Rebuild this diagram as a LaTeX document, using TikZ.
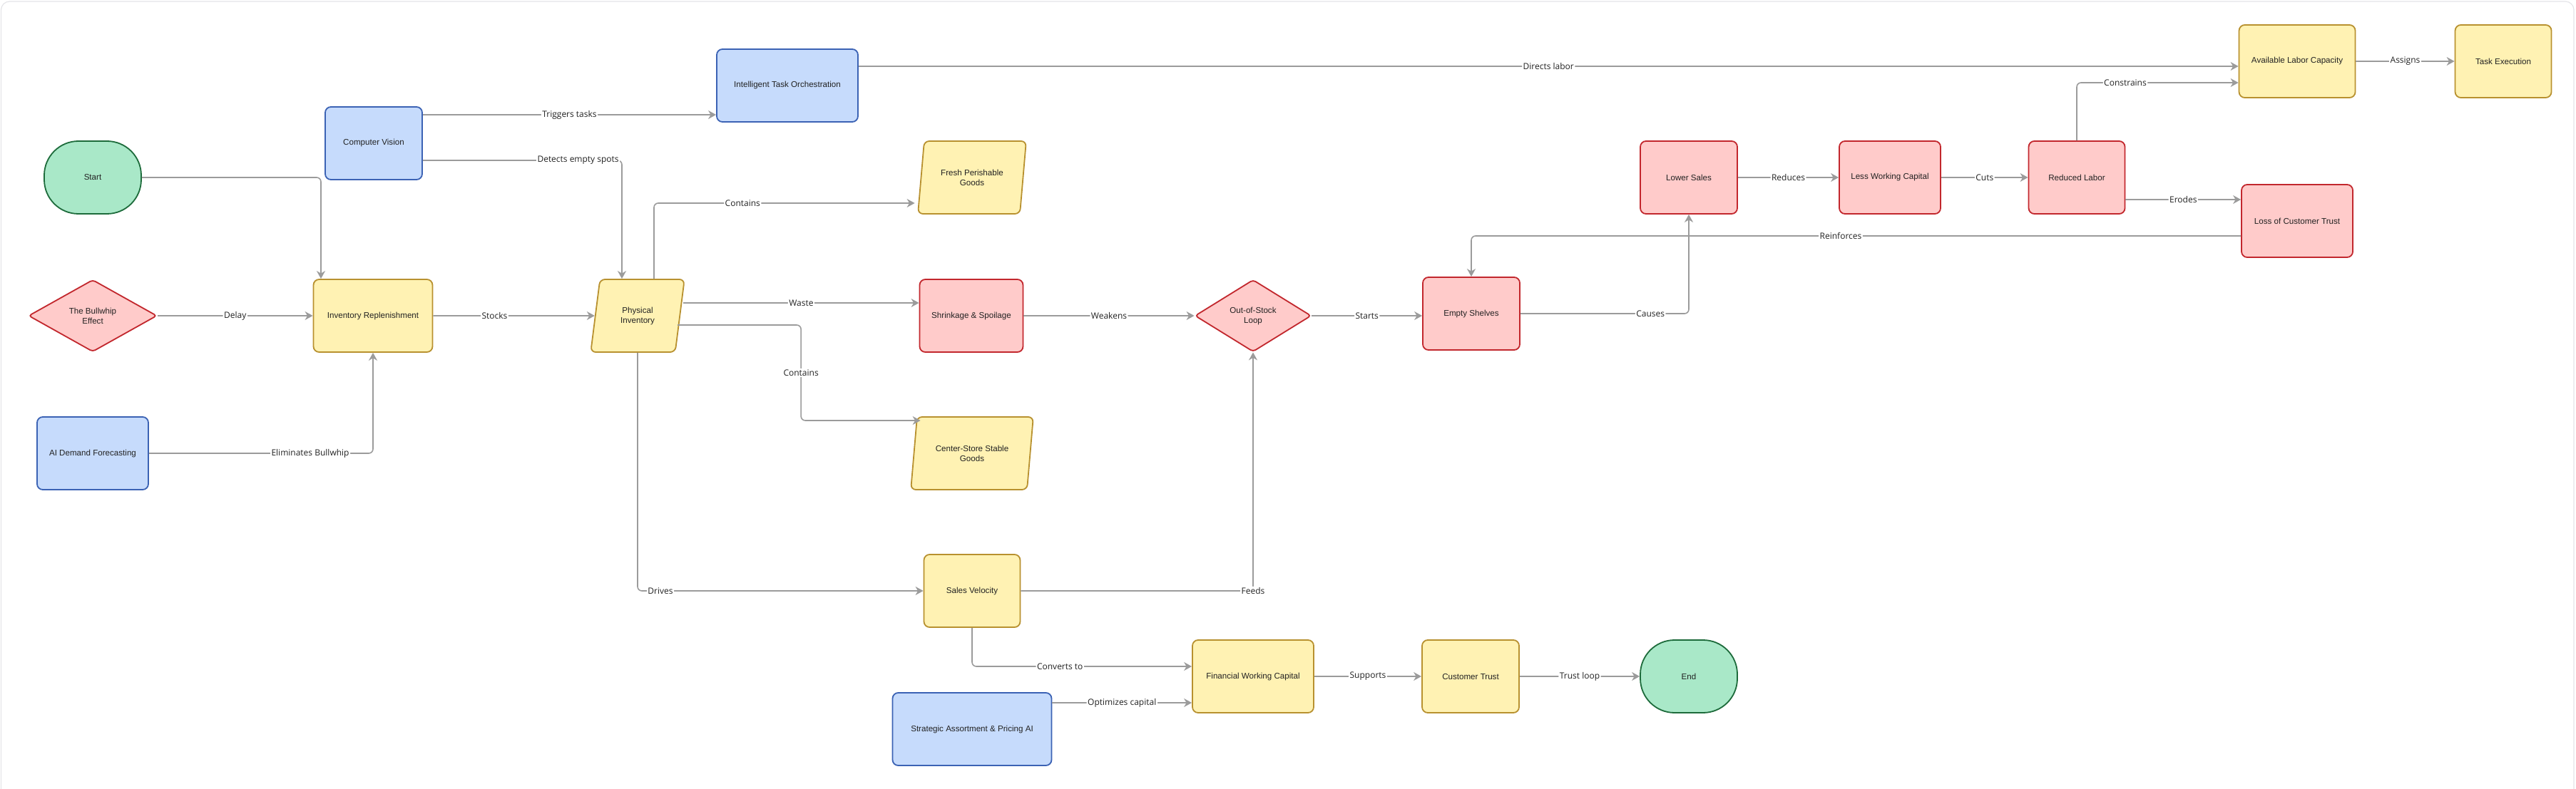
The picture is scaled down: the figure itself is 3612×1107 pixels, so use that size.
\documentclass[tikz,border=0pt]{standalone}
\usepackage{fontspec}
\setmainfont{Liberation Sans}
\newfontfamily\labelfont{Open Sans}
\usetikzlibrary{shapes.geometric,arrows.meta}
\definecolor{termfill}{HTML}{A9E8C8}
\definecolor{termline}{HTML}{1D6B3B}
\definecolor{aifill}{HTML}{C6DBFC}
\definecolor{ailine}{HTML}{3B62B4}
\definecolor{corefill}{HTML}{FFF2B3}
\definecolor{coreline}{HTML}{B8912F}
\definecolor{riskfill}{HTML}{FFCBCA}
\definecolor{riskline}{HTML}{C2272D}
\definecolor{wirecol}{HTML}{9B9B9B}
\definecolor{framecol}{HTML}{E4E4E8}
\definecolor{txt}{HTML}{222222}
\begin{document}
\begin{tikzpicture}[x=1pt,y=-1pt,
>={Stealth[length=11pt,width=12pt,inset=3.5pt]},
block/.style={draw,rectangle,rounded corners=8pt,minimum height=102pt,line width=1.8pt,align=center,text=txt,font=\fontsize{11.6}{14}\selectfont},
terminal/.style={block,rounded corners=48pt,minimum width=136pt,fill=termfill,draw=termline},
aiblock/.style={block,fill=aifill,draw=ailine},
coreblock/.style={block,fill=corefill,draw=coreline},
riskblock/.style={block,fill=riskfill,draw=riskline},
decision/.style={block,diamond,rounded corners=4pt,minimum height=101pt,inner sep=0pt,fill=riskfill,draw=riskline},
goods/.style={block,trapezium,trapezium left angle=78,trapezium right angle=102,trapezium stretches=true,rounded corners=7pt,fill=corefill,draw=coreline},
flowlabel/.style={fill=white,inner sep=1.5pt,text=txt,font=\labelfont\fontsize{12}{14}\selectfont},
wire/.style={->,draw=wirecol,line width=1.6pt,rounded corners=6pt}]

\useasboundingbox (0,0) rectangle (3612,1107);
\clip (0,0) rectangle (3612,1107);
\draw[framecol,line width=1.2pt,rounded corners=12pt] (1.5,2) rectangle (3609,1140);

\draw (130,249) node[terminal] (start) {Start};
\draw (130,443) node[decision,minimum width=180pt] (bullwhip) {The Bullwhip\\Effect};
\draw (130,636) node[aiblock,minimum width=156pt] (forecast) {AI Demand Forecasting};
\draw (524,201) node[aiblock,minimum width=136pt] (vision) {Computer Vision};
\draw (523,443) node[coreblock,minimum width=167pt] (replen) {Inventory Replenishment};
\draw (894,443) node[goods,minimum width=132pt] (physinv) {Physical\\Inventory};
\draw (1104,120) node[aiblock,minimum width=198pt] (orchestr) {Intelligent Task Orchestration};
\draw (1363,249) node[goods,minimum width=152pt] (fresh) {Fresh Perishable\\Goods};
\draw (1362,443) node[riskblock,minimum width=145pt] (shrink) {Shrinkage \& Spoilage};
\draw (1363,636) node[goods,minimum width=172pt] (stable) {Center-Store Stable\\Goods};
\draw (1363,829) node[coreblock,minimum width=135pt] (velocity) {Sales Velocity};
\draw (1363,1023) node[aiblock,minimum width=223pt] (pricing) {Strategic Assortment \& Pricing AI};
\draw (1757,443) node[decision,minimum width=163pt] (oosloop) {Out-of-Stock\\Loop};
\draw (1757,949) node[coreblock,minimum width=170pt] (fincap) {Financial Working Capital};
\draw (2063,440) node[riskblock,minimum width=136pt] (shelves) {Empty Shelves};
\draw (2062,949) node[coreblock,minimum width=136pt] (trust) {Customer Trust};
\draw (2368,249) node[riskblock,minimum width=136pt] (lowsales) {Lower Sales};
\draw (2368,949) node[terminal] (end) {End};
\draw (2650,249) node[riskblock,minimum width=142pt] (lesscap) {Less Working Capital};
\draw (2912,249) node[riskblock,minimum width=135pt] (redlabor) {Reduced Labor};
\draw (3221,310) node[riskblock,minimum width=156pt] (losstrust) {Loss of Customer Trust};
\draw (3221,86) node[coreblock,minimum width=163pt] (labor) {Available Labor Capacity};
\draw (3510,86) node[coreblock,minimum width=135pt] (taskexec) {Task Execution};

\draw[wire] (start.east) -| ([xshift=-73pt]replen.north);
\draw[wire] (bullwhip.east) -- node[flowlabel] {Delay} (replen.west);
\draw[wire] (forecast.east) -| node[flowlabel,pos=0.36] {Eliminates Bullwhip} (replen.south);
\draw[wire] ([yshift=40pt]vision.east) -- node[flowlabel] {Triggers tasks} ([yshift=-41pt]orchestr.west);
\draw[wire] ([yshift=-24pt]vision.east) -| node[flowlabel,pos=0.39] {Detects empty spots} ([xshift=-22pt]physinv.north);
\draw[wire] (replen.east) -- node[flowlabel,pos=0.38] {Stocks} (physinv.west);
\draw[wire] ([xshift=23pt]physinv.north) |- node[flowlabel,pos=0.67] {Contains} ([xshift=-8pt,yshift=-36pt]fresh.west);
\draw[wire] ([xshift=4pt,yshift=18pt]physinv.east) -- node[flowlabel] {Waste} ([yshift=18pt]shrink.west);
\draw[wire] ([xshift=-4pt,yshift=-13pt]physinv.east) -- ++(173,0) |- node[flowlabel,pos=0.25] {Contains} ([xshift=10pt,yshift=46pt]stable.west);
\draw[wire] (physinv.south) |- node[flowlabel,pos=0.54] {Drives} (velocity.west);
\draw[wire] (shrink.east) -- node[flowlabel] {Weakens} (oosloop.west);
\draw[wire] (oosloop.east) -- node[flowlabel] {Starts} (oosloop.east -| shelves.west);
\draw[wire] (velocity.east) -| node[flowlabel] {Feeds} (oosloop.south);
\draw[wire] (velocity.south) |- node[flowlabel,pos=0.7] {Converts to} ([yshift=14pt]fincap.west);
\draw[wire] ([yshift=37pt]pricing.east) -- node[flowlabel] {Optimizes capital} ([yshift=-37pt]fincap.west);
\draw[wire] (fincap.east) -- node[flowlabel] {Supports} (trust.west);
\draw[wire] (trust.east) -- node[flowlabel] {Trust loop} (end.west);
\draw[wire] (shelves.east) -| node[flowlabel,pos=0.386] {Causes} (lowsales.south);
\draw[wire] (lowsales.east) -- node[flowlabel] {Reduces} (lesscap.west);
\draw[wire] (lesscap.east) -- node[flowlabel] {Cuts} (redlabor.west);
\draw[wire] (redlabor.north) |- node[flowlabel,pos=0.65] {Constrains} ([yshift=-30pt]labor.west);
\draw[wire] ([yshift=-31pt]redlabor.east) -- node[flowlabel] {Erodes} ([yshift=30pt]losstrust.west);
\draw[wire] ([yshift=-21pt]losstrust.west) -| node[flowlabel,pos=0.26] {Reinforces} (shelves.north);
\draw[wire] ([yshift=27pt]orchestr.east) -- node[flowlabel] {Directs labor} ([yshift=-7pt]labor.west);
\draw[wire] (labor.east) -- node[flowlabel] {Assigns} (taskexec.west);
\end{tikzpicture}
\end{document}
